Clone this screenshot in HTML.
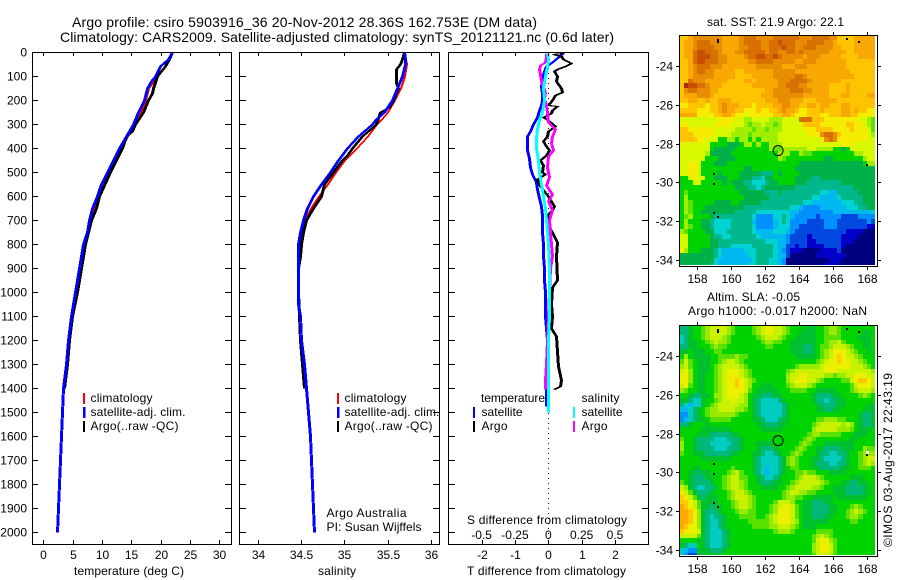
<!DOCTYPE html>
<html lang="en">
<head>
<meta charset="utf-8">
<title>Argo profile chart</title>
<style>
html,body{margin:0;padding:0;background:#fff;}
svg{display:block;}
text{font-family:"Liberation Sans",sans-serif;font-size:12px;fill:#000;}
.frame{fill:none;stroke:#000;stroke-width:1;shape-rendering:crispEdges;}
</style>
</head>
<body>
<svg id="chart" xmlns="http://www.w3.org/2000/svg" width="900" height="580" viewBox="0 0 900 580">
<rect x="0" y="0" width="900" height="580" fill="#fff"/>
<text x="72" y="27" style="font-size:14px" textLength="465">Argo profile: csiro 5903916_36 20-Nov-2012 28.36S 162.753E (DM data)</text>
<text x="60" y="42" style="font-size:14px" textLength="554">Climatology: CARS2009. Satellite-adjusted climatology: synTS_20121121.nc (0.6d later)</text>
<g id="panels"></g>

<rect class="frame" x="32.5" y="52.5" width="199" height="492"/>
<rect class="frame" x="239.5" y="52.5" width="200" height="492"/>
<rect class="frame" x="448.5" y="52.5" width="200" height="492"/>
<rect class="frame" x="679.5" y="35.5" width="198" height="231"/>
<rect class="frame" x="679.5" y="325.5" width="198" height="231"/>

<text x="74" y="575" textLength="110">temperature (deg C)</text>
<text x="318" y="575" textLength="38">salinity</text>
<text x="467" y="575" textLength="159">T difference from climatology</text>
<text x="467" y="524" textLength="160">S difference from climatology</text>

<g>
<rect x="83" y="393" width="2" height="11" fill="#f00"/>
<rect x="83" y="407" width="2.5" height="11" fill="#00f"/>
<rect x="83" y="421" width="2" height="11" fill="#000"/>
<text x="90.5" y="402" textLength="62">climatology</text>
<text x="90.5" y="416" textLength="95">satellite-adj. clim.</text>
<text x="90.5" y="430" textLength="88">Argo(..raw -QC)</text>
</g>
<g>
<rect x="337" y="393" width="2" height="11" fill="#f00"/>
<rect x="337" y="407" width="2.5" height="11" fill="#00f"/>
<rect x="337" y="421" width="2" height="11" fill="#000"/>
<text x="344.5" y="402" textLength="62">climatology</text>
<text x="344.5" y="416" textLength="95">satellite-adj. clim.</text>
<text x="344.5" y="430" textLength="88">Argo(..raw -QC)</text>
<text x="326.5" y="517" textLength="80">Argo Australia</text>
<text x="326.5" y="531" textLength="95">PI: Susan Wijffels</text>
</g>
<g>
<text x="481" y="402" textLength="64">temperature</text>
<text x="581.5" y="402" textLength="38">salinity</text>
<rect x="473" y="407" width="2" height="11" fill="#00f"/>
<rect x="473" y="421" width="2" height="11" fill="#000"/>
<rect x="573" y="407" width="2" height="11" fill="#0ff"/>
<rect x="573" y="421" width="2" height="11" fill="#f0f"/>
<text x="481.5" y="416" textLength="41">satellite</text>
<text x="481.5" y="430" textLength="26">Argo</text>
<text x="581.5" y="416" textLength="41">satellite</text>
<text x="581.5" y="430" textLength="26">Argo</text>
</g>

<text x="707" y="26" textLength="137">sat. SST: 21.9 Argo: 22.1</text>
<text x="707" y="301" textLength="93">Altim. SLA: -0.05</text>
<text x="688" y="315" textLength="179">Argo h1000: -0.017 h2000: NaN</text>
<text transform="translate(892,547) rotate(-90)" textLength="174">©IMOS 03-Aug-2017 22:43:19</text>
</svg>

<script>
/* ---------- profile data ---------- */
const depthTicks = [0,100,200,300,400,500,600,700,800,900,1000,1100,1200,1300,1400,1500,1600,1700,1800,1900,2000];
const tempTicks = [0,5,10,15,20,25,30];
const salTicks = [34,34.5,35,35.5,36];
const tDiffTicks = [-2,-1,0,1,2];
const sDiffLabels = ['-0.5','-0.25','0','0.25','0.5'];
const sDiffTicks = [-0.5,-0.25,0,0.25,0.5];

const tempDepths = [0,30,60,100,120,150,200,250,300,350,400,450,500,550,600,650,700,750,800,900,1000,1100,1200,1300,1400,1500,1600,1700,1800,1900,2000];
const tempClim = [21.8,21.2,19.9,19.2,18.7,17.9,17.4,16.4,15.5,14.3,13.2,12.1,11.0,10.1,9.2,8.45,7.85,7.4,6.9,6.15,5.6,4.75,4.3,3.85,3.4,3.25,3.0,2.85,2.67,2.45,2.4];
const tempSat = [22.0,21.3,19.9,19.0,18.4,17.7,17.2,16.2,15.3,14.1,12.9,11.8,10.8,9.9,9.1,8.35,7.8,7.4,6.8,6.1,5.45,4.7,4.26,3.8,3.36,3.2,2.96,2.85,2.67,2.45,2.4];
const argoTempDepths = [0,30,60,100,150,170,200,250,300,330,350,400,500,600,650,700,800,900,1000,1100,1200,1300,1400];
const tempArgo = [22.0,21.4,20.7,19.3,18.7,18.5,17.9,16.9,15.6,15.1,14.1,13.4,11.4,9.5,8.9,8.1,7.1,6.4,5.7,4.95,4.45,4.1,3.6];

const salDepths = [0,30,50,100,150,200,250,280,300,350,400,450,500,550,600,650,700,750,800,850,900,1000,1050,1100,1200,1300,1400,1500,1600,1700,1800,1900,2000];
const salClim = [35.69,35.70,35.71,35.69,35.64,35.57,35.49,35.42,35.37,35.26,35.13,34.99,34.89,34.80,34.69,34.60,34.53,34.50,34.48,34.47,34.45,34.46,34.47,34.49,34.50,34.53,34.56,34.585,34.60,34.615,34.63,34.64,34.655];
const salSat = [35.69,35.695,35.70,35.66,35.61,35.55,35.46,35.37,35.32,35.16,35.03,34.93,34.83,34.73,34.64,34.57,34.52,34.49,34.47,34.47,34.46,34.46,34.47,34.49,34.50,34.53,34.56,34.585,34.60,34.615,34.63,34.64,34.655];
const argoSalDepths = [0,30,50,70,130,150,200,230,250,300,350,400,430,450,500,550,600,650,700,750,800,850,900,1000,1100,1200,1300,1400];
const salArgo = [35.69,35.67,35.64,35.60,35.60,35.62,35.565,35.51,35.41,35.365,35.20,35.085,35.035,34.97,34.87,34.76,34.73,34.64,34.56,34.52,34.50,34.49,34.47,34.47,34.48,34.49,34.51,34.53];

const tSatDepths = [5,20,40,60,80,110,140,170,200,220,240,270,300,330,350,380,410,440,480,510,540,570,610,640,680,750,800,850,900,950,1000,1100,1200,1300,1400,1476];
const tSatDiff = [0.45,0.3,0.1,-0.07,-0.13,-0.2,-0.23,-0.2,-0.2,-0.22,-0.27,-0.35,-0.45,-0.55,-0.63,-0.65,-0.63,-0.57,-0.55,-0.5,-0.37,-0.33,-0.28,-0.22,-0.2,-0.19,-0.17,-0.15,-0.13,-0.12,-0.1,-0.1,-0.05,-0.03,-0.07,-0.06];
const tArgoDepths = [5,10,15,30,45,60,70,80,100,120,150,165,180,200,220,225,240,255,270,285,310,330,350,370,390,410,430,450,470,500,510,530,560,600,640,660,680,720,760,790,850,950,980,1050,1100,1150,1185,1310,1365,1390,1405];
const tArgoDiff = [0.45,0.15,0.37,0.45,0.68,0.5,0.25,0.17,0.25,0.23,0.37,0.42,0.2,0.1,0,0.27,0.1,0.07,-0.15,0,0.2,0,-0.05,-0.17,-0.07,0.03,-0.07,-0.25,-0.15,-0.2,-0.1,-0.35,-0.25,0,0.17,0.1,-0.03,0,0.15,0.25,0.22,0.25,0.12,0.07,0.1,0.07,0.23,0.3,0.37,0.35,0.18];
const sArgoDepths = [5,20,40,55,70,90,120,135,165,190,220,250,290,320,350,380,410,435,480,520,555,590,620,660,700,800,850,900,1000,1100,1200,1300,1365,1405];
const sArgoDiff = [-0.018,-0.018,-0.025,-0.063,-0.07,-0.063,-0.055,-0.05,-0.025,-0.033,-0.018,-0.013,0,0.05,0.025,0.02,0.038,0,-0.008,0.008,-0.02,0.025,0,0.025,0.008,0.02,0.025,0.013,0.008,0,-0.013,-0.018,-0.025,-0.023];
const sSatDepths = [5,30,60,100,150,200,250,280,320,360,400,450,500,550,600,650,700,800,900,1000,1100,1200,1300,1400,1500];
const sSatDiff = [-0.008,0,-0.008,-0.025,-0.038,-0.033,-0.05,-0.068,-0.083,-0.093,-0.093,-0.08,-0.068,-0.058,-0.038,-0.025,-0.018,-0.005,0.003,0.008,0.008,0,0,0,0];

/* ---------- map data: one character per 0.25 degree cell, colour level 0..i ---------- */
const lonTicks = [158,160,162,164,166,168];
const latTicks = [-24,-26,-28,-30,-32,-34];
const sstRows = [
"ddeff fffff eeeef gggff ffggg gggff fgggg ffddd deeee e",
"deefg ggfff eeeef ggggf fgghg ggfff ggggf feddd deeee e",
"deefg gggff eeeef fgggf fgggh ggffg ggfff feedd deeee e",
"deegh hgggf eeeff ggggg fggff ggfgf fffff eeeed deeee e",
"deegh hhggf feeee fgghh gghgf ffffe fffee eeedd ddeee e",
"ddegh hgggf feeee effgg ggfff ffeef ffeee eeeed ddddd d",
"ddefg ggfff eeeee eeeff ffffe eefff eeeee eeeed ddddd d",
"ddefg gffee eeedd eeeee eefff ffeee eeeee eeeee ddddd d",
"ddeff fffee eeedd ddeee eefff ffggf eeeee eeeee edddd d",
"ddgff feeee edddd eedee eeeff fgggg feeee eeedd ddddd d",
"dihhg gfeee ddddd ddeee eeeff gggff eeeee dddde ddddd d",
"dfggf ffeed ddddd ddddd eefff fgggf feeee dddde ddddd d",
"deeef ffedd ddddd dddde eefff ffffe eeeee dddee dddde e",
"ddeed dedde eeddd ddddd eeeff feeed ddeee eeddd ddddd d",
"ccddd dcdde feeed ddcdd ddeef feedd eedee dddee ddddd d",
"ddddc ccdde feedd cccdc cddef eedcc ddded dddee deddc c",
"eeeec cccdd eedcc bcccc ccdde edccc dddcc dddee ddccc c",
"bbbbb bbbbc cccbb aabbb baaab bbbgg gdddc ccccc ccbba 9",
"ccbbb bbbcc ccbbb a9aab aa9ab bbbbd dddcc ccccd dccba 9",
"ddccc cccbb bbbaa aa9aa 9aaab bbbbc ccddd dcccc dcccb 9",
"dddcc cccbb bbaaa a9aaa aaabb bbbbb cccfg gfdcc ccccb a",
"ddddc cbbb8 8aa8a a8a8a aaabb bbbbb bbbcf gfccc ccccb b",
"cbbbb bb888 87778 aa8a8 8aaab bbbbb bbbbb bbbcc cbbbb b",
"bbbbb bb877 77788 88888 8a99a aaaaa bbaaa a8878 bbbbb b",
"bbbbb ba777 77888 88888 888aa a88a9 98888 88888 8aabb b",
"bbbbb b8887 77788 88888 888a9 88888 88887 78888 888ab b",
"bbccb 88877 78888 88888 88888 88877 77777 77777 7778a a",
"bbccb 88888 88888 77888 88888 88777 77777 77777 77777 7",
"bbccb 88887 88887 77776 66878 88877 77777 77777 77777 7",
"88bcb b8877 78887 77665 77888 88777 76677 77777 77777 7",
"888bb 88888 78777 66555 67788 88777 66666 66677 77777 7",
"88888 88888 88877 76656 77777 77666 66666 66666 67777 7",
"89888 88888 88887 77777 66676 66666 66655 44666 66777 7",
"8a888 88888 88888 77777 76666 66666 65544 44566 66677 7",
"8a988 88877 77887 77776 66666 66665 54444 44455 56677 7",
"8a988 87777 77777 66666 66666 65543 33344 44445 55667 7",
"8a988 77777 77766 66655 55555 54433 33333 34444 44444 5",
"89a88 88766 66666 66533 33556 54333 33233 33322 22333 3",
"8a888 77655 55666 66433 33456 53333 22223 33222 22223 2",
"8a988 77655 55666 66533 33455 53322 22223 33222 22221 1",
"a9888 87755 56666 66544 44555 43222 22222 22221 11100 0",
"bb888 88766 55666 66654 44444 32222 12222 22211 11000 0",
"bb888 88776 66666 66666 55544 32222 11222 22211 10000 0",
"bb888 88776 66555 55666 66544 22122 11112 22210 00000 0",
"ca888 77765 44444 55566 66543 21110 00011 11200 00000 0",
"77777 77765 44444 45566 66544 20000 00111 11110 00000 0",
"77777 77754 44444 44566 65543 00000 00000 11100 00000 0",
"77777 77654 44444 45566 65543 00000 00001 11000 00000 0"
];
const slaRows = [
"66788 9abbb ba988 889ab ccbba 98887 77889 aa988 88888 8",
"66788 9abbb ba988 889ab ccbba 98877 77889 aa988 88877 8",
"56788 9abbb a9888 8889a bbba9 88777 77889 99988 88777 8",
"56778 89aba a9888 88889 aa998 87777 77889 aab98 88877 8",
"66778 889a9 98888 88888 99888 87776 67899 abbba 98877 8",
"77877 78899 88888 88888 88888 87776 6789a bcccb a9887 8",
"8a877 77889 999a9 98888 88888 88777 7789a bcdcb ba988 8",
"9b987 77889 abba9 88888 88888 88888 889ab ccdcc bba98 8",
"ab987 7789a bbbba 98888 88888 889aa aaabc ccccc bbba9 8",
"bca87 7789a bcccb a9888 88888 9abbb bbbbc ccbbb bbbbb a",
"cca87 7889a bcccb a9888 88888 abbcc bbbba a9aab bcccb b",
"cca87 7889a bccdc ba988 88888 abccc bba98 88899 bcddc b",
"bc987 7889a bccdc ba887 77888 9abbb a9888 88888 9bccc b",
"a9887 7889a bcccc b9877 77788 89999 88777 77888 9abbb a",
"88766 778aa bcccb a8776 66778 88888 87666 67788 889a9 8",
"77655 7889a bbcbb a8765 55567 88888 87665 66778 88888 8",
"65455 789ab bbbba a8765 55556 78888 88766 66778 88887 7",
"44567 89aab bbbaa 98765 55556 78888 88776 67788 88877 7",
"33567 89aaa aaa98 88765 55556 78888 88888 88888 88766 7",
"34567 78999 99888 88776 55567 78888 8899a aa998 88766 7",
"66788 87888 88888 88877 66677 88888 89abb bbbab a8766 7",
"88888 77777 77888 88887 77778 88888 8abbb bbaaa 98777 8",
"88887 77666 66778 88888 88888 88888 9aa99 99988 87778 8",
"98876 66655 56667 88888 88888 88889 a9888 88888 77888 8",
"a8876 66555 55667 88877 77888 8889a 98887 77777 78888 8",
"a8876 66655 56667 88876 66788 889a9 88776 66677 788a9 9",
"98877 76666 66778 88776 55678 89a98 88766 55667 889aa a",
"88888 77777 77888 88765 55567 9a988 87765 55567 889ab b",
"88888 88888 88888 88765 55567 9a988 87666 55667 889ab a",
"88877 88888 88988 88765 45567 89988 87766 66677 88999 8",
"88776 77888 89ab9 88765 45567 8899a 99888 77778 88888 8",
"88766 67788 9abb9 98876 55678 889ab bba98 88888 77788 8",
"98766 66788 9abba 98876 66778 89abb bbba9 88877 66778 8",
"ba765 56678 9abba 98887 77788 9abbb baa98 87776 66677 8",
"cb976 66788 89abb a9888 88889 abbaa 99888 87776 66677 8",
"dcb97 67778 89abb ba988 88889 aa998 87777 78777 77778 8",
"ddcb9 77778 889ab ba988 889bb ba887 76667 78888 88888 8",
"edcb9 77677 889ab ba988 89abc cb987 76666 77888 9a988 8",
"eedca 76667 8889a a9988 89acc cb987 76666 77889 aba98 8",
"eedca 76566 78889 99988 9abcc cb987 76667 78889 aa988 8",
"eedca 76556 78888 89999 9abcc cba87 77777 88888 99888 8",
"edcca 76556 78888 88999 9aabb ba987 77888 88888 88888 8",
"dcccb 76555 67888 88888 889aa a9888 88999 98888 88888 8",
"bbbb9 76555 67888 88888 88888 88888 89aba 98888 88888 8",
"88887 76555 67888 88888 88888 88888 89bcc a9888 88888 8",
"76558 76555 67888 88888 88888 88888 8abcc b9888 88888 8",
"54337 77666 78888 88888 88888 88888 8abcc b9888 88888 8",
"53227 77777 88888 88888 88888 88888 89bbb a9888 88888 8"
];
const islandLons = [159.2,159.2,159.0,159.0,159.0,159.2,166.8,167.5,168.0];
const islandLats = [-22.6,-22.7,-29.5,-30.05,-31.55,-31.75,-22.55,-22.7,-29.05];
const floatLon = 162.753;
const floatLat = -28.36;

/* ---------- helpers ---------- */
const NS = 'http://www.w3.org/2000/svg';
const root = document.getElementById('panels');
function mk(tag, props, parent) {
  const el = document.createElementNS(NS, tag);
  for (const k in props) el.setAttribute(k, props[k]);
  (parent || root).appendChild(el);
  return el;
}
const yDepth = d => 52 + 0.24 * d;
const xTemp = t => 43.3 + 5.87 * t;
const xSal = s => 257.7 + 86.7 * (s - 34);
const xTD = v => 548.3 + 33.3 * v;
const xSD = v => 548.3 + 133.3 * v;
const xLon = lon => 697.3 + 17 * (lon - 158);
const yLat1 = lat => 66 + 19.4 * (-24 - lat);
const yLat2 = lat => 356 + 19.4 * (-24 - lat);

/* A wide, flat pen: the same trace repeated at horizontal offsets, like the original renderer */
function profile(xs, ds, xScale, color, offsets, parent) {
  let d = '';
  offsets.forEach(off => {
    xs.forEach((v, i) => {
      d += (i ? 'L' : 'M') + (Math.round(xScale(v)) + off + 0.5) + ' ' + (Math.round(yDepth(ds[i])) + 0.5);
    });
  });
  return mk('path', {d: d, fill: 'none', stroke: color, 'stroke-width': 1, 'shape-rendering': 'crispEdges'}, parent);
}
function tick(x1, y1, x2, y2, parent) {
  return mk('line', {x1: x1, y1: y1, x2: x2, y2: y2, stroke: '#000', 'stroke-width': 1, 'shape-rendering': 'crispEdges'}, parent);
}
function label(x, y, str, anchor, parent) {
  const t = mk('text', {x: x, y: y, 'text-anchor': anchor}, parent);
  t.textContent = str;
  return t;
}

/* ---------- profile panels ---------- */
const gTemp = mk('g', {});


const gSal = mk('g', {});


const gDiff = mk('g', {});



const penThin = [0, 1];
const penWide = [-1, 0, 1];
let line;
line = profile(tempClim, tempDepths, xTemp, '#f00', penThin, gTemp);


line = profile(tempArgo, argoTempDepths, xTemp, '#000', penWide, gTemp);


line = profile(tempSat, tempDepths, xTemp, '#00f', penWide, gTemp);



line = profile(salClim, salDepths, xSal, '#f00', penThin, gSal);


line = profile(salArgo, argoSalDepths, xSal, '#000', penWide, gSal);


line = profile(salSat, salDepths, xSal, '#00f', penWide, gSal);



const zeroLine = mk('line', {x1: 548.5, y1: 53, x2: 548.5, y2: 545, stroke: '#000', 'stroke-width': 1, 'stroke-dasharray': '1 4', 'shape-rendering': 'crispEdges'}, gDiff);


line = profile(tSatDiff, tSatDepths, xTD, '#00f', penWide, gDiff);


line = profile(tArgoDiff, tArgoDepths, xTD, '#000', penWide, gDiff);


line = profile(sArgoDiff, sArgoDepths, xSD, '#f0f', penWide, gDiff);


line = profile(sSatDiff, sSatDepths, xSD, '#0ff', penWide, gDiff);



/* ---------- profile axes ---------- */
const axesG = mk('g', {});


depthTicks.forEach(d => {
  const y = Math.round(yDepth(d)) + 0.5;
  const lab = label(27, y + 4, String(d), 'end', axesG);
  
  
  [[32, 38], [231, 225], [240, 246], [439, 433], [449, 455], [648, 642]].forEach(p => {
    const t = tick(p[0], y, p[1], y, axesG);
    
    
  });
});
function xAxis(values, scale) {
  values.forEach(v => {
    const x = Math.round(scale(v)) + 0.5;
    const t1 = tick(x, 52, x, 56, axesG);
    
    
    const t2 = tick(x, 545, x, 540, axesG);
    
    
    const lab = label(x, 559, String(v), 'middle', axesG);
    
    
  });
}
xAxis(tempTicks, xTemp);
xAxis(salTicks, xSal);
xAxis(tDiffTicks, xTD);
sDiffTicks.forEach((v, i) => {
  const lab = label(xSD(v), 539, sDiffLabels[i], 'middle', axesG);
  
  
});

/* ---------- maps ---------- */
const sstLevels = {
  '0':'#00007f','1':'#0000c8','2':'#0048e0','3':'#0090ff','4':'#00b8f0','5':'#00d2d2','6':'#00b88c','7':'#00b048','8':'#00d400',
  '9':'#5ce400','a':'#a0ee00','b':'#d8f800','c':'#f6ec00','d':'#ffc400','e':'#f8a800','f':'#e88c00','g':'#d87000','h':'#c65000','i':'#b02a10'
};
const slaLevels = {
  '0':'#00007f','1':'#0000c8','2':'#0048e0','3':'#0090ff','4':'#00b8f0','5':'#00ccc0','6':'#00b878','7':'#00c030','8':'#00d400',
  '9':'#58e000','a':'#98ea00','b':'#c8f200','c':'#ecf000','d':'#ffc800','e':'#ffa800','f':'#e88c00','g':'#d87000','h':'#c65000','i':'#b02a10'
};
function drawMap(rows, yLat, levels, name) {
  const g = mk('g', {});
  
  
  rows.forEach((row, r) => {
    const cells = row.replace(/ /g, '');
    for (let c = 0; c < cells.length; c++) {
      const lon = 157 + c * 0.25 - 0.02;
      const lat = -22.4 - r * 0.25;
      const x = xLon(lon);
      const y = yLat(lat);
      const xEnd = Math.min(xLon(lon + 0.25), 876);
      const yEnd = Math.min(yLat(lat - 0.25), yLat(-22.4) + 230);
      const cell = mk('rect', {
        x: Math.round(x), y: Math.round(y),
        width: Math.round(xEnd) - Math.round(x), height: Math.round(yEnd) - Math.round(y),
        fill: levels[cells[c]], 'shape-rendering': 'crispEdges'
      }, g);
      
      
    }
  });
  islandLons.forEach((lon, i) => {
    const dot = mk('rect', {x: Math.round(xLon(lon)) - 1, y: Math.round(yLat(islandLats[i])), width: 2, height: 2, fill: '#000', 'shape-rendering': 'crispEdges'}, g);
    
    
  });
  const marker = mk('circle', {cx: xLon(floatLon), cy: yLat(floatLat), r: 5, fill: 'none', stroke: '#000', 'stroke-width': 1}, g);
  
  

  const top = Math.round(yLat(-22.4));
  const bottom = top + 231;
  lonTicks.forEach(lon => {
    const x = Math.round(xLon(lon)) + 0.5;
    const t1 = tick(x, top - 3, x, top, g);
    
    
    const t2 = tick(x, bottom + 0.5, x, bottom + 4, g);
    
    
    const lab = label(x, bottom + 17, String(lon), 'middle', g);
    
    
  });
  latTicks.forEach(lat => {
    const y = Math.round(yLat(lat)) + 0.5;
    const t1 = tick(676, y, 679, y, g);
    
    
    const t2 = tick(878, y, 881, y, g);
    
    
    const lab = label(673, y + 4, String(lat), 'end', g);
    
    
  });
  return g;
}
drawMap(sstRows, yLat1, sstLevels, 'sst-map');
const slaMap = drawMap(slaRows, yLat2, slaLevels, 'sla-map');
const missingCell = mk('rect', {x: 866, y: 451, width: 3, height: 3, fill: '#fff', 'shape-rendering': 'crispEdges'}, slaMap);


</script>
</body>
</html>
